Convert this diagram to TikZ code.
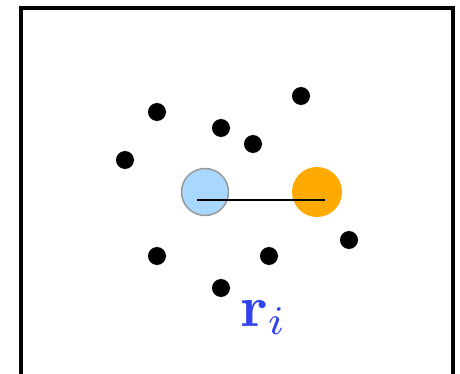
\documentclass[tikz,border=0pt]{standalone}
\usepackage{amsmath,amssymb}
\usepackage{xcolor}
\usepackage{tikz}
\usetikzlibrary{positioning,calc}
\definecolor{partblue}{HTML}{A8D8FF}
\definecolor{partgray}{HTML}{999999}
\definecolor{partorange}{HTML}{FFAA00}
\definecolor{labelblue}{HTML}{3344EE}

\begin{document}
\begin{tikzpicture}[x=1pt,y=-1pt,
  dot/.style={circle,fill=black,inner sep=0pt,minimum size=18pt},
  pi/.style={circle,draw=partgray,line width=1.5pt,fill=partblue,inner sep=0pt,minimum size=47pt},
  pj/.style={circle,fill=partorange,inner sep=0pt,minimum size=50pt}]
  \useasboundingbox (0,0) rectangle (460,374);
  \draw[line width=3.5pt] (21,390) -- (21,8) -- (453,8) -- (453,390);
  % neighbours
  \node[dot] (n1) at (157,112) {};
  \node[dot] (n2) at (221,128) {};
  \node[dot] (n3) at (253,144) {};
  \node[dot] (n4) at (301,96) {};
  \node[dot] (n5) at (125,160) {};
  \node[dot] (n6) at (349,240) {};
  \node[dot] (n7) at (157,256) {};
  \node[dot] (n8) at (269,256) {};
  \node[dot] (n9) at (221,288) {};
  % pair
  \node[pi] (pa) at (205,192) {};
  \node[pj] (pb) at (317,192) {};
  \coordinate (ra) at ($(pa.center)+(-8,8)$);
  \coordinate (rb) at ($(pb.center)+(8,8)$);
  \draw[line width=1.5pt] (ra) -- (rb);
  \node[anchor=base west,inner sep=0pt,text=labelblue,scale=5.8] (r) at (239,326) {$\mathbf{r}_i$};
\end{tikzpicture}
\end{document}
